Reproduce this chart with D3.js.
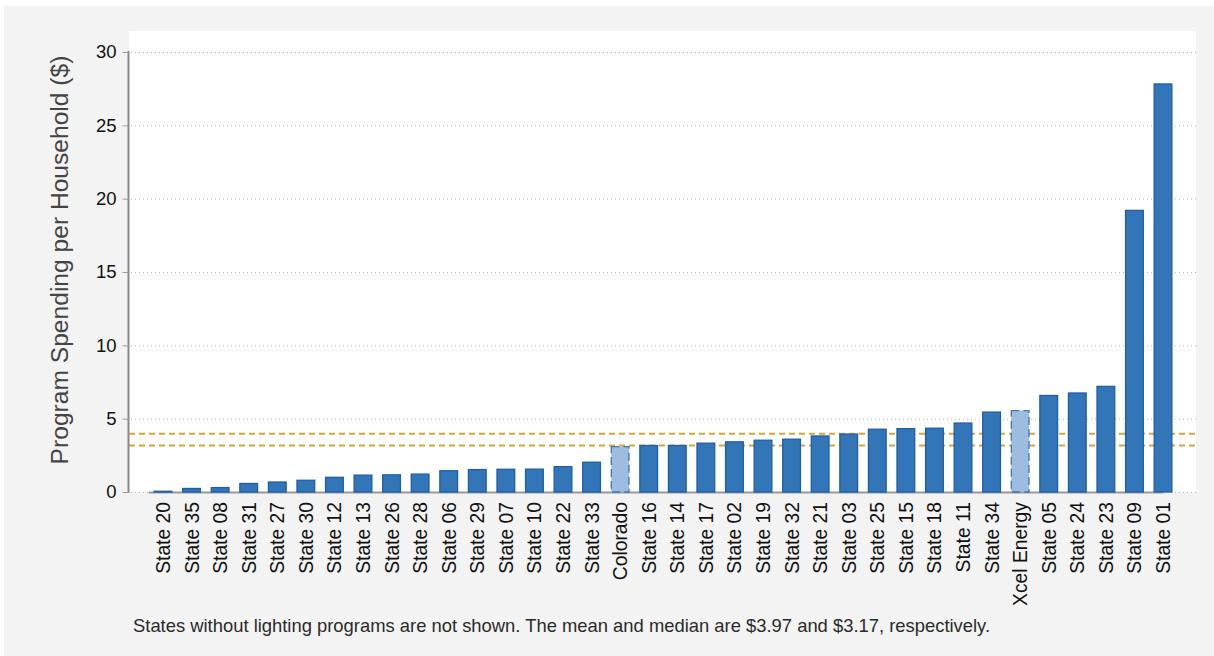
<!DOCTYPE html>
<html>
<head>
<meta charset="utf-8">
<script src="https://cdn.jsdelivr.net/npm/d3@7/dist/d3.min.js"></script>
<style>
  body { margin: 0; background: #fff; font-family: Arial, "Liberation Sans", sans-serif; }
</style>
</head>
<body>
<svg id="viz" width="1214" height="656"></svg>
<script>
// bars, sorted low to high
const names = ["State 20","State 35","State 08","State 31","State 27","State 30","State 12","State 13",
  "State 26","State 28","State 06","State 29","State 07","State 10","State 22","State 33","Colorado",
  "State 16","State 14","State 17","State 02","State 19","State 32","State 21","State 03","State 25",
  "State 15","State 18","State 11","State 34","Xcel Energy","State 05","State 24","State 23","State 09","State 01"];
const spending = [0.05,0.24,0.3,0.58,0.68,0.8,1.0,1.15,1.17,1.22,1.45,1.53,1.55,1.56,1.73,2.03,3.1,
  3.17,3.17,3.33,3.42,3.53,3.6,3.82,3.95,4.28,4.32,4.35,4.7,5.45,5.55,6.58,6.75,7.2,19.2,27.82];
const highlighted = ["Colorado","Xcel Energy"];
const yTicks = [0,5,10,15,20,25,30];
const refLines = [3.97, 3.17]; // mean, median
const note = "States without lighting programs are not shown. The mean and median are $3.97 and $3.17, respectively.";

const svg = d3.select("#viz");
const W = +svg.attr("width"), H = +svg.attr("height");
const plot = {left: 129, right: 1196, top: 31, bottom: 492};

svg.append("rect").attr("x",4).attr("y",6).attr("width",W-4).attr("height",H-6).attr("fill","#f3f3f3");
svg.append("rect").attr("x",plot.left).attr("y",plot.top)
  .attr("width",plot.right-plot.left).attr("height",plot.bottom-plot.top).attr("fill","#fff");

const data = names.map((n,i)=>({name:n, value:spending[i]}));

const x = d3.scaleBand().domain(names).range([148.7, 1177.3]).paddingInner(0.38).paddingOuter(0.19);
const y = d3.scaleLinear().domain([0,30]).range([plot.bottom, 52]);

// dotted grid
svg.append("g").selectAll("line").data(yTicks).join("line")
  .attr("x1",plot.left+2).attr("x2",plot.right)
  .attr("y1",d=>y(d)+0.5).attr("y2",d=>y(d)+0.5)
  .attr("stroke","#b5b5b5").attr("stroke-width",1).attr("stroke-dasharray","1,3");

// mean / median
svg.append("g").selectAll("line").data(refLines).join("line")
  .attr("x1",plot.left).attr("x2",plot.right)
  .attr("y1",d=>y(d)).attr("y2",d=>y(d))
  .attr("stroke","#d6a53a").attr("stroke-width",2).attr("stroke-dasharray","6,4");

// x axis baseline
svg.append("line").attr("x1",x.range()[0]).attr("x2",x.range()[1]-14)
  .attr("y1",plot.bottom+0.5).attr("y2",plot.bottom+0.5)
  .attr("stroke","#9a9a9a").attr("stroke-width",2);

// bars
svg.append("g").selectAll("rect").data(data).join("rect")
  .attr("x",d=>x(d.name)).attr("width",x.bandwidth())
  .attr("y",d=>y(d.value)).attr("height",d=>y(0)-y(d.value))
  .attr("fill",d=>highlighted.includes(d.name) ? "#9dbde0" : "#3376b8")
  .attr("stroke",d=>highlighted.includes(d.name) ? "#3a78b8" : "#1d5ea8")
  .attr("stroke-width",1.3)
  .attr("stroke-dasharray",d=>highlighted.includes(d.name) ? "8,4" : null);

// y axis
const yAxis = svg.append("g").attr("transform",`translate(${plot.left-0.5},0)`)
  .call(d3.axisLeft(y).tickValues(yTicks).tickSize(6).tickPadding(6));
yAxis.select(".domain").attr("stroke","#8a8a8a").attr("stroke-width",2)
  .attr("d",`M0,${plot.bottom+1}V${y(30)-1}`);
yAxis.selectAll(".tick line").attr("stroke","#9a9a9a");
yAxis.selectAll(".tick text").attr("font-size",18.5).attr("fill","#111")
  .attr("font-family","Arial, 'Liberation Sans', sans-serif");

// x labels
svg.append("g").selectAll("text").data(names).join("text")
  .attr("transform",d=>`translate(${x(d)+x.bandwidth()/2+7},${plot.bottom+10}) rotate(-90)`)
  .attr("text-anchor","end").attr("font-size",19.3).attr("fill","#111").text(d=>d);

// y title
svg.append("text").attr("transform",`translate(68,260) rotate(-90)`)
  .attr("text-anchor","middle").attr("font-size",24.6).attr("fill","#444")
  .text("Program Spending per Household ($)");

// footnote
svg.append("text").attr("x",133).attr("y",632).attr("font-size",18.4).attr("fill","#2a2a2a").text(note);
</script>
</body>
</html>
